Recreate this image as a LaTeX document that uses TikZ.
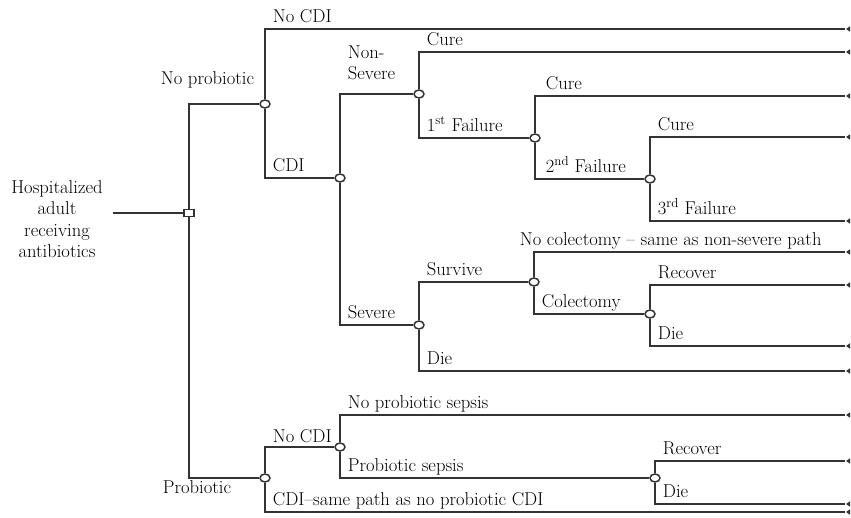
\documentclass[tikz,border=0pt]{standalone}
\usetikzlibrary{shapes.geometric}
\begin{document}
\begin{tikzpicture}[x=1pt,y=-1pt,
                    color=black!80,
                    line width=1.8pt,
                    font=\fontsize{18.6}{21.5}\selectfont,
                    chanceND/.style={ellipse,
                                     draw,
                                     fill=white,
                                     line width=1.5pt,
                                     minimum width=10pt,
                                     minimum height=8pt,
                                     inner sep=0pt},
                    decideND/.style={rectangle,
                                     draw,
                                     fill=white,
                                     line width=1.5pt,
                                     minimum width=10pt,
                                     minimum height=7pt,
                                     inner sep=0pt},
                    termND/.style={isosceles triangle,
                                   isosceles triangle apex angle=70,
                                   shape border rotate=180,
                                   fill,
                                   inner sep=1.2pt},
                    lab/.style={anchor=base west,
                                inner sep=0pt,
                                text=black,
                                pos=0.5,
                                xshift=7pt,
                                yshift=7pt},
                    br/.style={to path={|- (\tikztotarget) \tikztonodes}}]
            \useasboundingbox (0,0) rectangle (851,517);
            % root and decision
            \node[align=center, inner xsep=9pt, text=black] (root) at (57,219)
                {Hospitalized\\adult\\receiving\\antibiotics};
            \node[decideND](dec)     at (189,213) {};
            % chance nodes
            \node[chanceND](cNoPro)  at (265,104) {};
            \node[chanceND](cCDI)    at (340,178) {};
            \node[chanceND](cNonSev) at (419,94)  {};
            \node[chanceND](cFail1)  at (535,138) {};
            \node[chanceND](cFail2)  at (650,179) {};
            \node[chanceND](cSev)    at (419,325) {};
            \node[chanceND](cSurv)   at (534,282) {};
            \node[chanceND](cColec)  at (650,314) {};
            \node[chanceND](cPro)    at (265,478) {};
            \node[chanceND](cNoCDI)  at (340,447) {};
            \node[chanceND](cSepsis) at (655,478) {};
            % terminal nodes
            \node[termND](tNoCDI)    at (849,29)  {};
            \node[termND](tCure1)    at (849,52)  {};
            \node[termND](tCure2)    at (849,96)  {};
            \node[termND](tCure3)    at (849,137) {};
            \node[termND](tFail3)    at (849,221) {};
            \node[termND](tNoColec)  at (849,252) {};
            \node[termND](tRecov1)   at (849,285) {};
            \node[termND](tDie1)     at (849,346) {};
            \node[termND](tDie2)     at (849,371) {};
            \node[termND](tNoSep)    at (849,415) {};
            \node[termND](tRecov2)   at (849,461) {};
            \node[termND](tDie3)     at (849,504) {};
            \node[termND](tCDIsame)  at (849,512) {};
            \draw (root.east |- dec) -- (dec);
            \path
                (dec)
                    edge [br] node[lab, anchor=base east, xshift=59pt, yshift=13pt] (lNoPro) {No probiotic} (cNoPro)
                    edge [br] node[lab, anchor=base, xshift=1pt, yshift=-22pt] (lPro) {Probiotic} (cPro)
                (cNoPro)
                    edge [br] node[lab] (lNoCDI) {No CDI} (tNoCDI)
                    edge [br] node[lab] (lCDI) {CDI} (cCDI)
                (cCDI)
                    edge [br] node[lab, align=left, anchor=south west, yshift=6pt] (lNonSev) {Non-\\Severe} (cNonSev)
                    edge [br] node[lab] (lSev) {Severe} (cSev)
                (cNonSev)
                    edge [br] node[lab] (lCure1) {Cure} (tCure1)
                    edge [br] node[lab] (lFail1) {1\textsuperscript{st} Failure} (cFail1)
                (cFail1)
                    edge [br] node[lab, xshift=3pt] (lCure2) {Cure} (tCure2)
                    edge [br] node[lab, xshift=3pt] (lFail2) {2\textsuperscript{nd} Failure} (cFail2)
                (cFail2)
                    edge [br] node[lab] (lCure3) {Cure} (tCure3)
                    edge [br] node[lab] (lFail3) {3\textsuperscript{rd} Failure} (tFail3)
                (cSev)
                    edge [br] node[lab] (lSurv) {Survive} (cSurv)
                    edge [br] node[lab] (lDie1) {Die} (tDie2)
                (cSurv)
                    edge [br] node[lab, xshift=-22pt] (lNoColec) {No colectomy -- same as non-severe path} (tNoColec)
                    edge [br] node[lab] (lColec) {Colectomy} (cColec)
                (cColec)
                    edge [br] node[lab] (lRecov1) {Recover} (tRecov1)
                    edge [br] node[lab] (lDie2) {Die} (tDie1)
                (cPro)
                    edge [br] node[lab, yshift=-2pt] (lNoCDI2) {No CDI} (cNoCDI)
                    edge [br] node[lab] (lCDIsame) {CDI--same path as no probiotic CDI} (tCDIsame)
                (cNoCDI)
                    edge [br] node[lab] (lNoSep) {No probiotic sepsis} (tNoSep)
                    edge [br] node[lab] (lSep) {Probiotic sepsis} (cSepsis)
                (cSepsis)
                    edge [br] node[lab] (lRecov2) {Recover} (tRecov2)
                    edge [br] node[lab] (lDie3) {Die} (tDie3)
                ;
        \end{tikzpicture}
\end{document}
